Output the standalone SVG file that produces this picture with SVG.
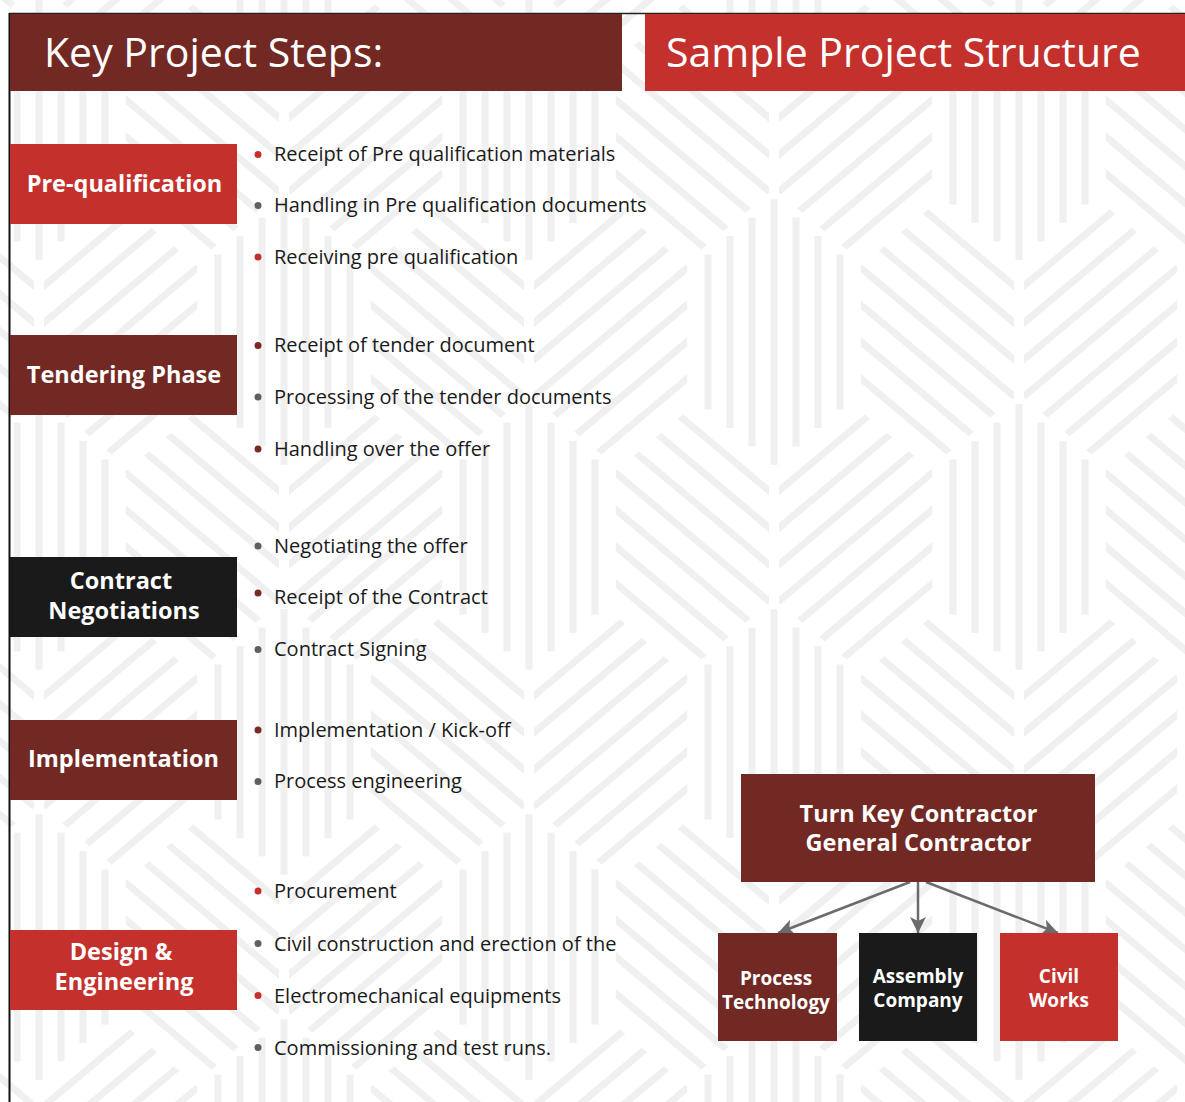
<svg xmlns="http://www.w3.org/2000/svg" xmlns:xlink="http://www.w3.org/1999/xlink" width="1185" height="1102" viewBox="0 0 1185 1102">
<style>
.hdr{font-family:"Open Sans","Liberation Sans",sans-serif;font-size:41px;fill:#ffffff}
.lbl{font-family:"Open Sans","Liberation Sans",sans-serif;font-size:23.5px;font-weight:700;fill:#ffffff;text-anchor:middle}
.sub{font-family:"Open Sans","Liberation Sans",sans-serif;font-size:19px;font-weight:700;fill:#ffffff;text-anchor:middle}
.itm{font-family:"Open Sans","Liberation Sans",sans-serif;font-size:20px;fill:#1a1a1a}
.red{fill:#c4312d}.mar{fill:#722823}.blk{fill:#1a1a1a}
.dr{fill:#c4312d}.dg{fill:#5f5f5f}.dm{fill:#7a2a25}
.stp{fill:#f0f0f0}
.ds{stroke:#f0f0f0;stroke-width:7;fill:none}
.conn{stroke:#6b6b6b;stroke-width:2.5;fill:none}
</style>
<defs>
<clipPath id="hexclip"><polygon points="0,-130.3 76.65,-66.1 76.65,66.1 0,130.3 -76.65,66.1 -76.65,-66.1"/></clipPath>
<g id="hv" class="stp">
<rect x="-69.5" y="-77.5" width="7" height="155"/>
<rect x="-47.5" y="-95.9" width="7" height="191.8"/>
<rect x="-25.5" y="-114.4" width="7" height="228.8"/>
<rect x="-3.5" y="-132.8" width="7" height="265.6"/>
<rect x="18.5" y="-114.4" width="7" height="228.8"/>
<rect x="40.5" y="-95.9" width="7" height="191.8"/>
<rect x="62.5" y="-77.5" width="7" height="155"/>
</g>
<g id="ha" clip-path="url(#hexclip)" class="ds">
<line x1="-98.8" y1="-193.3" x2="207.6" y2="63.5"/>
<line x1="-116.9" y1="-171.7" x2="189.5" y2="85.1"/>
<line x1="-135.1" y1="-150" x2="171.3" y2="106.8"/>
<line x1="-153.2" y1="-128.4" x2="153.2" y2="128.4"/>
<line x1="-171.3" y1="-106.8" x2="135.1" y2="150"/>
<line x1="-189.5" y1="-85.1" x2="116.9" y2="171.7"/>
<line x1="-207.6" y1="-63.5" x2="98.8" y2="193.3"/>
</g>
<g id="hb"><use xlink:href="#ha" transform="scale(-1,1)"/></g>
<pattern id="bgp" patternUnits="userSpaceOnUse" x="284" y="332" width="490" height="410">
<use xlink:href="#hv" x="0" y="0"/>
<use xlink:href="#hv" x="490" y="0"/>
<use xlink:href="#hv" x="0" y="410"/>
<use xlink:href="#hv" x="490" y="410"/>
<use xlink:href="#hv" x="245" y="205"/>
<use xlink:href="#ha" x="163.3" y="0"/>
<use xlink:href="#ha" x="163.3" y="410"/>
<use xlink:href="#ha" x="408.3" y="205"/>
<use xlink:href="#hb" x="326.7" y="0"/>
<use xlink:href="#hb" x="326.7" y="410"/>
<use xlink:href="#hb" x="81.7" y="205"/>
</pattern>
<marker id="arr" markerUnits="userSpaceOnUse" markerWidth="18" markerHeight="18" refX="16" refY="9" orient="auto">
<path d="M0,1 L16,9 L0,17 L4,9 z" fill="#6b6b6b"/>
</marker>
</defs>

<rect x="0" y="0" width="1185" height="1102" fill="#ffffff"/>
<rect x="0" y="0" width="1185" height="1102" fill="url(#bgp)"/>

<g id="frame">
<line x1="9" y1="13.5" x2="1185" y2="13.5" stroke="#222222" stroke-width="1.5"/>
<line x1="9.5" y1="13" x2="9.5" y2="1102" stroke="#111111" stroke-width="2"/>
</g>

<g id="header-steps">
<rect x="10" y="14" width="612" height="77" class="mar"/>
<text x="44" y="67" class="hdr">Key Project Steps:</text>
</g>
<g id="header-structure">
<rect x="645" y="14" width="540" height="77" class="red"/>
<text x="666" y="67" class="hdr">Sample Project Structure</text>
</g>

<g id="step-prequalification">
<rect x="10" y="144" width="227" height="80" class="red"/>
<text x="124.5" y="192" class="lbl">Pre-qualification</text>
</g>
<g id="step-tendering">
<rect x="10" y="335" width="227" height="80" class="mar"/>
<text x="124" y="383" class="lbl">Tendering Phase</text>
</g>
<g id="step-contract">
<rect x="10" y="557" width="227" height="80" class="blk"/>
<text x="121" y="589" class="lbl">Contract</text>
<text x="124" y="619" class="lbl">Negotiations</text>
</g>
<g id="step-implementation">
<rect x="10" y="720" width="227" height="80" class="mar"/>
<text x="123.5" y="767" class="lbl">Implementation</text>
</g>
<g id="step-design">
<rect x="10" y="930" width="227" height="80" class="red"/>
<text x="121" y="960" class="lbl">Design &amp;</text>
<text x="124" y="989.5" class="lbl">Engineering</text>
</g>

<g id="bullets-prequalification">
<circle cx="258" cy="154.5" r="3.5" class="dr"/><text x="274" y="161" class="itm">Receipt of Pre qualification materials</text>
<circle cx="258" cy="205.5" r="3.5" class="dg"/><text x="274" y="212" class="itm">Handling in Pre qualification documents</text>
<circle cx="258" cy="257" r="3.5" class="dr"/><text x="274" y="263.5" class="itm">Receiving pre qualification</text>
</g>
<g id="bullets-tendering">
<circle cx="258" cy="345.5" r="3.5" class="dm"/><text x="274" y="352" class="itm">Receipt of tender document</text>
<circle cx="258" cy="397" r="3.5" class="dg"/><text x="274" y="403.5" class="itm">Processing of the tender documents</text>
<circle cx="258" cy="449" r="3.5" class="dm"/><text x="274" y="455.5" class="itm">Handling over the offer</text>
</g>
<g id="bullets-contract">
<circle cx="258" cy="546" r="3.5" class="dg"/><text x="274" y="552.5" class="itm">Negotiating the offer</text>
<circle cx="258" cy="593" r="3.5" class="dm"/><text x="274" y="604" class="itm">Receipt of the Contract</text>
<circle cx="258" cy="649.5" r="3.5" class="dg"/><text x="274" y="656" class="itm">Contract Signing</text>
</g>
<g id="bullets-implementation">
<circle cx="258" cy="730" r="3.5" class="dm"/><text x="274" y="736.5" class="itm">Implementation / Kick-off</text>
<circle cx="258" cy="781.5" r="3.5" class="dg"/><text x="274" y="788" class="itm">Process engineering</text>
</g>
<g id="bullets-design">
<circle cx="258" cy="891" r="3.5" class="dr"/><text x="274" y="898" class="itm">Procurement</text>
<circle cx="258" cy="943.5" r="3.5" class="dg"/><text x="274" y="950.5" class="itm">Civil construction and erection of the</text>
<circle cx="258" cy="995.5" r="3.5" class="dr"/><text x="274" y="1002.5" class="itm">Electromechanical equipments</text>
<circle cx="258" cy="1047.5" r="3.5" class="dg"/><text x="274" y="1054.5" class="itm">Commissioning and test runs.</text>
</g>

<g id="connectors">
<line x1="910" y1="882" x2="778" y2="933" class="conn" marker-end="url(#arr)"/>
<line x1="918" y1="882" x2="918" y2="933" class="conn" marker-end="url(#arr)"/>
<line x1="926" y1="882" x2="1058" y2="933" class="conn" marker-end="url(#arr)"/>
</g>

<g id="node-turnkey">
<rect x="741" y="774" width="354" height="108" class="mar"/>
<text x="918.5" y="822" class="lbl">Turn Key Contractor</text>
<text x="918.5" y="851" class="lbl">General Contractor</text>
</g>
<g id="node-process">
<rect x="718" y="933" width="119" height="108" class="mar"/>
<text x="776" y="985" class="sub">Process</text>
<text x="776" y="1009" class="sub">Technology</text>
</g>
<g id="node-assembly">
<rect x="859" y="933" width="118" height="108" class="blk"/>
<text x="918" y="983" class="sub">Assembly</text>
<text x="918" y="1007" class="sub">Company</text>
</g>
<g id="node-civil">
<rect x="1000" y="933" width="118" height="108" class="red"/>
<text x="1059" y="983" class="sub">Civil</text>
<text x="1059" y="1007" class="sub">Works</text>
</g>
</svg>
